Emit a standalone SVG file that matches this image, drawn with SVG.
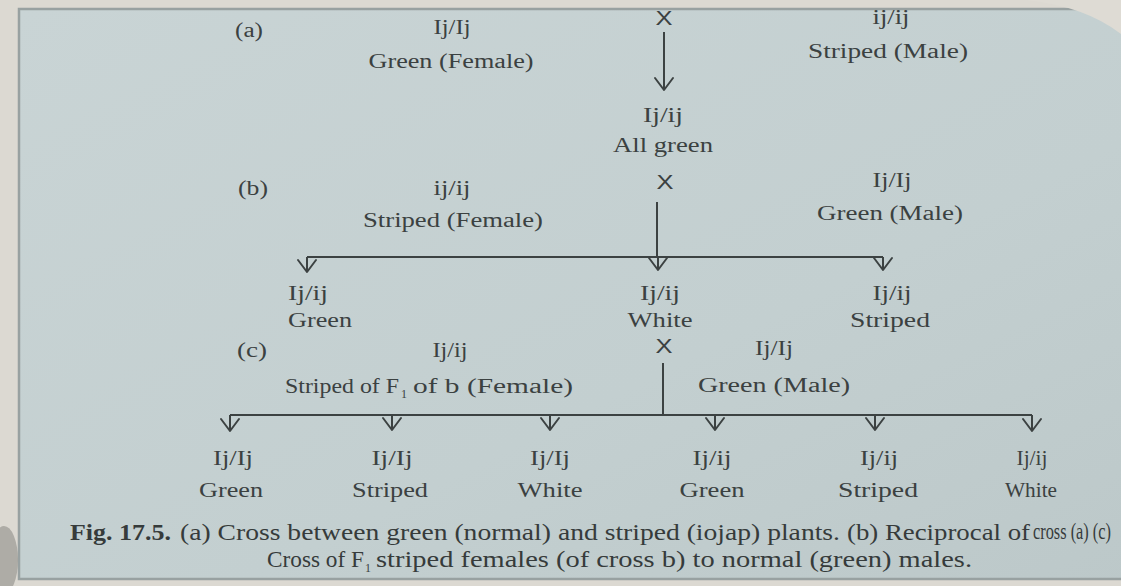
<svg xmlns="http://www.w3.org/2000/svg" width="1121" height="586" viewBox="0 0 1121 586">
  <defs>
    <linearGradient id="paper" x1="0" y1="0" x2="1" y2="1">
      <stop offset="0" stop-color="#c9d4d5"/>
      <stop offset="0.6" stop-color="#c3cfd0"/>
      <stop offset="1" stop-color="#bcc8c9"/>
    </linearGradient>
    <marker id="head" markerUnits="userSpaceOnUse" viewBox="-14 -12 16 24" markerWidth="16" markerHeight="24" refX="0" refY="0" orient="auto" overflow="visible">
      <path d="M-12,-9 L0,0 L-12,9" fill="none" stroke="#3c4242" stroke-width="2" stroke-linecap="round" stroke-linejoin="round"/>
    </marker>
    <style>
      .t { font-family: "Liberation Serif", "Times New Roman", serif; font-size: 20px; fill: #3b4141; text-anchor: middle; }
      .lab { text-anchor: start; }
      .sub { font-family: "Liberation Serif", "Times New Roman", serif; font-size: 12px; fill: #3b4141; }
      .x { font-family: "Liberation Sans", Arial, sans-serif; font-size: 21px; fill: #3b4141; text-anchor: middle; }
      .cap { font-family: "Liberation Serif", "Times New Roman", serif; font-size: 23px; fill: #363b3b; }
      .b { font-weight: bold; }
      .ln { fill: none; stroke: #3c4242; stroke-width: 2; }
      .arr { fill: none; stroke: #3c4242; stroke-width: 2; marker-end: url(#head); }
    </style>
  </defs>

  <!-- page surface -->
  <rect x="0" y="0" width="1121" height="586" fill="#dcd9d2"/>
  <rect x="19" y="9" width="1140" height="570" fill="url(#paper)" stroke="#98a1a1" stroke-width="2.5"/>
  <!-- curled corner of the sheet, top right -->
  <path d="M1025,0 Q1085,6 1121,34 L1121,0 Z" fill="#dedbd4"/>
  <!-- shadow at bottom left -->
  <ellipse cx="4" cy="560" rx="14" ry="34" fill="#9a9893" opacity="0.7"/>

  <!-- cross (a) -->
  <g id="cross-a">
    <text class="t lab" x="235" y="37" textLength="28" lengthAdjust="spacingAndGlyphs">(a)</text>
    <g id="a-female">
      <text class="t" x="452" y="34" textLength="37" lengthAdjust="spacingAndGlyphs">Ij/Ij</text>
      <text class="t" x="451" y="68" textLength="165" lengthAdjust="spacingAndGlyphs">Green (Female)</text>
    </g>
    <text id="a-x" class="x" x="664" y="25" textLength="17" lengthAdjust="spacingAndGlyphs">X</text>
    <g id="a-male">
      <text class="t" x="891" y="24" textLength="37" lengthAdjust="spacingAndGlyphs">ij/ij</text>
      <text class="t" x="888" y="58" textLength="160" lengthAdjust="spacingAndGlyphs">Striped (Male)</text>
    </g>
    <g id="a-f1">
      <text class="t" x="663" y="122" textLength="40" lengthAdjust="spacingAndGlyphs">Ij/ij</text>
      <text class="t" x="663" y="152" textLength="100" lengthAdjust="spacingAndGlyphs">All green</text>
    </g>
  </g>

  <!-- cross (b) -->
  <g id="cross-b">
    <text class="t lab" x="238" y="195" textLength="30" lengthAdjust="spacingAndGlyphs">(b)</text>
    <g id="b-female">
      <text class="t" x="452" y="195" textLength="37" lengthAdjust="spacingAndGlyphs">ij/ij</text>
      <text class="t" x="453" y="227" textLength="180" lengthAdjust="spacingAndGlyphs">Striped (Female)</text>
    </g>
    <text id="b-x" class="x" x="665" y="189" textLength="17" lengthAdjust="spacingAndGlyphs">X</text>
    <g id="b-male">
      <text class="t" x="892" y="187" textLength="39" lengthAdjust="spacingAndGlyphs">Ij/Ij</text>
      <text class="t" x="890" y="220" textLength="146" lengthAdjust="spacingAndGlyphs">Green (Male)</text>
    </g>
    <g id="b-green">
      <text class="t" x="308" y="300" textLength="40" lengthAdjust="spacingAndGlyphs">Ij/ij</text>
      <text class="t" x="320" y="327" textLength="64" lengthAdjust="spacingAndGlyphs">Green</text>
    </g>
    <g id="b-white">
      <text class="t" x="660" y="300" textLength="40" lengthAdjust="spacingAndGlyphs">Ij/ij</text>
      <text class="t" x="660" y="327" textLength="65" lengthAdjust="spacingAndGlyphs">White</text>
    </g>
    <g id="b-striped">
      <text class="t" x="892" y="300" textLength="39" lengthAdjust="spacingAndGlyphs">Ij/ij</text>
      <text class="t" x="890" y="327" textLength="80" lengthAdjust="spacingAndGlyphs">Striped</text>
    </g>
  </g>

  <!-- cross (c) -->
  <g id="cross-c">
    <text class="t lab" x="237" y="357" textLength="30" lengthAdjust="spacingAndGlyphs">(c)</text>
    <g id="c-female">
      <text class="t" x="450" y="357" textLength="35" lengthAdjust="spacingAndGlyphs">Ij/ij</text>
      <text class="t lab" x="285" y="393" textLength="114" lengthAdjust="spacingAndGlyphs">Striped of F</text>
      <text class="sub" x="401" y="398">1</text>
      <text class="t lab" x="413" y="393" textLength="160" lengthAdjust="spacingAndGlyphs">of b (Female)</text>
    </g>
    <text id="c-x" class="x" x="664" y="353" textLength="17" lengthAdjust="spacingAndGlyphs">X</text>
    <g id="c-male">
      <text class="t" x="774" y="355" textLength="38" lengthAdjust="spacingAndGlyphs">Ij/Ij</text>
      <text class="t" x="774" y="392" textLength="152" lengthAdjust="spacingAndGlyphs">Green (Male)</text>
    </g>
    <g id="c-1">
      <text class="t" x="233" y="465" textLength="40" lengthAdjust="spacingAndGlyphs">Ij/Ij</text>
      <text class="t" x="231" y="497" textLength="64" lengthAdjust="spacingAndGlyphs">Green</text>
    </g>
    <g id="c-2">
      <text class="t" x="392" y="465" textLength="41" lengthAdjust="spacingAndGlyphs">Ij/Ij</text>
      <text class="t" x="390" y="497" textLength="76" lengthAdjust="spacingAndGlyphs">Striped</text>
    </g>
    <g id="c-3">
      <text class="t" x="550" y="465" textLength="40" lengthAdjust="spacingAndGlyphs">Ij/Ij</text>
      <text class="t" x="550" y="497" textLength="65" lengthAdjust="spacingAndGlyphs">White</text>
    </g>
    <g id="c-4">
      <text class="t" x="712" y="465" textLength="39" lengthAdjust="spacingAndGlyphs">Ij/ij</text>
      <text class="t" x="712" y="497" textLength="65" lengthAdjust="spacingAndGlyphs">Green</text>
    </g>
    <g id="c-5">
      <text class="t" x="879" y="465" textLength="38" lengthAdjust="spacingAndGlyphs">Ij/ij</text>
      <text class="t" x="878" y="497" textLength="80" lengthAdjust="spacingAndGlyphs">Striped</text>
    </g>
    <g id="c-6">
      <text class="t" x="1032" y="465" font-size="17" textLength="31" lengthAdjust="spacingAndGlyphs">Ij/ij</text>
      <text class="t" x="1031" y="497" font-size="17" textLength="52" lengthAdjust="spacingAndGlyphs">White</text>
    </g>
  </g>

  <!-- connectors -->
  <g id="connectors">
    <path class="arr" d="M664,32 V90"/>

    <path class="ln" d="M657,202 V257 M307,257 H883"/>
    <path class="arr" d="M307,257 V272"/>
    <path class="arr" d="M658,257 V270"/>
    <path class="arr" d="M883,257 V270"/>

    <path class="ln" d="M663,363 V415 M230,415 H1032"/>
    <path class="arr" d="M230,415 V431"/>
    <path class="arr" d="M392,415 V430"/>
    <path class="arr" d="M550,415 V430"/>
    <path class="arr" d="M715,415 V430"/>
    <path class="arr" d="M875,415 V430"/>
    <path class="arr" d="M1032,415 V431"/>
  </g>

  <!-- caption -->
  <g id="caption">
    <text class="cap b" x="70" y="540" textLength="101" lengthAdjust="spacingAndGlyphs">Fig. 17.5.</text>
    <text class="cap" x="180" y="540" textLength="660" lengthAdjust="spacingAndGlyphs">(a) Cross between green (normal) and striped (iojap) plants.</text>
    <text class="cap" x="847" y="540" textLength="183" lengthAdjust="spacingAndGlyphs">(b) Reciprocal of</text>
    <text class="cap" x="1033" y="539" font-size="16" textLength="78" lengthAdjust="spacingAndGlyphs">cross (a) (c)</text>
    <text class="cap" x="267" y="567" textLength="97" lengthAdjust="spacingAndGlyphs">Cross of F</text>
    <text class="sub" x="365" y="572" fill="#363b3b">1</text>
    <text class="cap" x="376" y="567" textLength="596" lengthAdjust="spacingAndGlyphs">striped females (of cross b) to normal (green) males.</text>
  </g>
</svg>
